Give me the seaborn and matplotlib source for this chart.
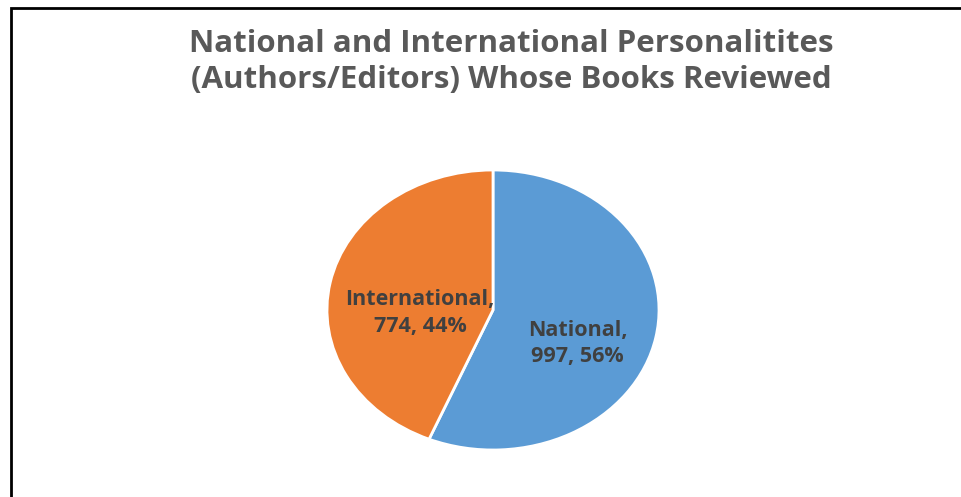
import matplotlib.pyplot as plt
from matplotlib.patches import Rectangle
import seaborn as sns

categories = ['National', 'International']
counts = [997, 774]
colors = ['#5B9BD5', '#ED7D31']
title = 'National and International Personalitites\n(Authors/Editors) Whose Books Reviewed'

sns.set_theme(style='white')
plt.rcParams['font.family'] = ['Open Sans', 'DejaVu Sans']

fig = plt.figure(figsize=(9.62, 4.97), dpi=100)
W, H = 962, 497

# frame around chart (cut off at right and bottom like the screenshot)
fig.patches.append(Rectangle((11 / W, -0.1), 1.2, 1 - 8 / H + 0.1,
                             transform=fig.transFigure, fill=False,
                             edgecolor='black', linewidth=2))

fig.text(511 / W, 1 - 62 / H, title, ha='center', va='center',
         fontsize=22.5, fontweight='bold', color='#595959', linespacing=1.28)

# pie is a bit wider than tall in the original
ax = fig.add_axes([327 / W, (H - 450) / H, 332 / W, 280 / H])
total = sum(counts)
ax.pie(counts, colors=colors, startangle=90, counterclock=False,
       wedgeprops=dict(edgecolor='white', linewidth=2))
ax.set_aspect('auto')
ax.set_xlim(-1, 1)
ax.set_ylim(-1, 1)
ax.axis('off')

label_pos = [(0.51, -0.24), (-0.44, -0.02)]
for name, n, (x, y) in zip(categories, counts, label_pos):
    pct = round(100 * n / total)
    ax.text(x, y, f'{name},\n{n}, {pct}%', ha='center', va='center',
            fontsize=15.5, fontweight='bold', color='#404040', linespacing=1.35)

fig.savefig('out.png', dpi=100)
